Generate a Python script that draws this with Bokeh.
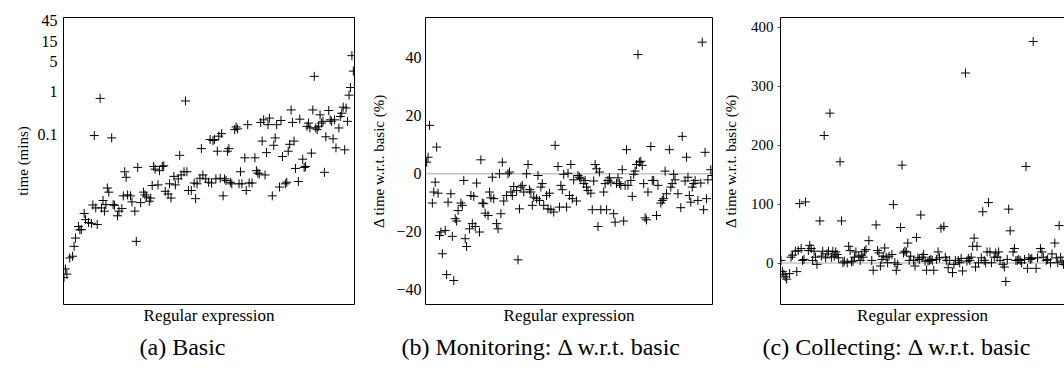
from bokeh.plotting import figure
from bokeh.layouts import row
from bokeh.models import Range1d, FixedTicker, Span, Title, LinearAxis, CustomJSTickFormatter
from bokeh.embed import file_html
from bokeh.resources import INLINE

SERIF = "Liberation Serif"

# ---------------- data ----------------
# (a) Basic: time in minutes per regular expression (index)
a_idx = [0, 1, 2, 4, 6, 7, 8, 10, 11, 12,
         14, 15, 17, 19, 20, 21, 22, 23, 25, 26,
         27, 28, 29, 30, 31, 33, 34, 35, 37, 38,
         40, 41, 42, 43, 44, 46, 47, 49, 50, 51,
         53, 55, 56, 57, 59, 60, 61, 62, 63, 65,
         66, 68, 69, 70, 72, 73, 74, 76, 77, 79,
         80, 81, 83, 84, 85, 86, 88, 90, 91, 92,
         94, 95, 96, 98, 100, 101, 102, 103, 104, 105,
         106, 107, 108, 109, 110, 111, 112, 113, 114, 115,
         116, 118, 119, 120, 121, 122, 123, 125, 126, 127,
         128, 130, 132, 133, 134, 135, 136, 137, 138, 139,
         140, 141, 142, 144, 145, 146, 147, 149, 150, 151,
         153, 154, 155, 156, 157, 158, 159, 160, 162, 163,
         165, 166, 167, 168, 169, 170, 171, 172, 173, 174,
         175, 176, 177, 178, 179, 180, 181, 183, 184, 185,
         186, 187, 188, 190, 191, 192, 193, 194, 195, 196,
         197, 198, 199, 200]
a_time = [4.4e-5, 7.0e-5, 5.3e-5, 1.27e-4, 1.39e-4, 2.37e-4, 3.7e-4, 6.9e-4, 5.8e-4, 5.8e-4,
          1.39e-3, 1.0e-3, 8.6e-4, 8.2e-4, 2.2e-3, 0.093, 1.88e-3, 7.7e-4, 0.69, 1.88e-3,
          2.8e-3, 1.58e-3, 2.24e-3, 5.5e-3, 4.4e-3, 0.082, 2.24e-3, 2.17e-3, 1.23e-3, 1.58e-3,
          1.82e-3, 3.6e-3, 0.0132, 9.8e-3, 3.8e-3, 3.6e-3, 2.6e-3, 1.58e-3, 3.1e-4, 0.0167,
          2.5e-3, 4.4e-3, 3.8e-3, 3.4e-3, 2.7e-3, 3.2e-3, 6.3e-3, 0.0176, 0.0152, 6.5e-3,
          0.014, 0.0176, 0.0182, 4.6e-3, 4.0e-3, 6.9e-3, 3.2e-3, 0.0103, 6.5e-3, 9.0e-3,
          0.032, 0.0111, 0.0132, 0.60, 0.0132, 4.8e-3, 4.8e-3, 7.2e-3, 3.1e-3, 6.9e-3,
          9.3e-3, 0.046, 0.0111, 9.0e-3, 7.5e-3, 0.075, 7.2e-3, 0.071, 0.075, 9.0e-3,
          0.040, 0.090, 9.3e-3, 0.103, 3.6e-3, 9.0e-3, 8.2e-3, 0.040, 0.046, 7.5e-3,
          6.9e-3, 0.128, 0.148, 0.133, 6.9e-3, 0.0132, 6.9e-3, 0.028, 4.8e-3, 0.167,
          7.2e-3, 7.2e-3, 0.028, 0.014, 0.0123, 0.0117, 0.189, 0.069, 0.217, 0.0111,
          0.037, 0.167, 0.238, 3.6e-3, 0.055, 0.082, 0.167, 5.8e-3, 0.21, 0.030,
          6.9e-3, 7.5e-3, 0.040, 0.058, 0.37, 0.189, 0.069, 0.0158, 7.8e-3, 0.225,
          0.026, 0.0167, 0.0176, 0.153, 0.182, 0.14, 0.036, 0.37, 2.26, 0.14,
          0.128, 0.153, 0.284, 0.182, 0.20, 0.0128, 0.087, 0.358, 0.217, 0.20,
          0.078, 0.217, 0.048, 0.14, 0.26, 0.31, 0.43, 0.043, 0.41, 0.20,
          0.82, 1.24, 6.9, 3.0]

# (b) Monitoring: delta time w.r.t. basic (%)
b_idx = [0, 1, 2, 4, 5, 6, 7, 8, 9, 10,
         11, 13, 14, 15, 17, 18, 19, 20, 21, 22,
         24, 25, 26, 27, 28, 30, 31, 32, 33, 34,
         35, 37, 38, 39, 40, 41, 43, 44, 45, 46,
         47, 49, 50, 51, 52, 53, 54, 56, 57, 58,
         59, 60, 61, 63, 64, 65, 66, 67, 68, 70,
         71, 72, 73, 74, 75, 77, 78, 79, 80, 81,
         82, 84, 85, 86, 87, 89, 90, 92, 93, 94,
         95, 96, 98, 99, 100, 101, 102, 103, 105, 106,
         107, 108, 110, 111, 112, 113, 115, 116, 117, 118,
         119, 120, 121, 122, 124, 125, 126, 127, 128, 129,
         131, 132, 133, 134, 135, 136, 137, 138, 139, 140,
         141, 143, 144, 145, 146, 147, 148, 149, 150, 151,
         152, 153, 154, 155, 157, 158, 159, 161, 162, 164,
         165, 166, 167, 168, 170, 171, 172, 173, 174, 176,
         178, 179, 181, 182, 183, 184, 185, 186, 187, 188,
         190, 192, 193, 194, 195, 196, 197, 199, 200]
b_delta = [4.0, 5.7, 16.7, -10.1, -6.3, -2.9, 9.2, -6.7, -21.3, -20.1,
           -27.6, -19.6, -34.8, -9.8, -6.9, -21.6, -36.8, -15.5, -16.3, -12.7,
           -10.1, -10.9, -2.3, -22.4, -25.1, -19.0, -7.5, -17.2, -7.8, -18.2,
           -3.2, -20.1, 4.8, -10.1, -10.3, -13.6, -14.4, -6.3, -8.3, -1.2,
           -8.6, -17.2, -19.0, 0.0, -13.8, 4.0, -9.4, -7.5, 0.0, 0.6,
           -6.3, -7.5, -4.4, -5.8, -29.7, -12.1, -4.6, -4.0, -6.3, 0.0,
           3.2, -5.5, -6.3, -10.9, -8.1, -8.6, -0.6, -9.2, -4.6, -3.4,
           -10.9, -7.5, -12.1, -6.7, -12.4, -13.2, 9.8, 2.5, -11.5, -4.0,
           -5.5, -0.2, -11.5, 0.2, -7.5, 3.2, -8.6, -2.1, -9.4, -0.6,
           -1.2, -1.7, -3.4, -2.3, -4.6, -5.8, -6.7, -12.4, -2.5, 3.2,
           1.7, -18.2, 0.6, -12.4, -6.3, -3.4, -12.4, -2.3, -1.4, -2.9,
           -13.8, -16.7, -3.4, -1.4, -3.4, -4.0, 1.4, -16.3, -4.0, 8.3,
           -4.0, -2.3, -7.8, -0.2, 0.9, 3.2, 41.1, 4.0, 4.3, 2.9,
           -3.4, -15.2, -15.9, -6.3, 9.4, -2.3, -2.3, -14.4, -4.0, -10.1,
           -9.2, -8.6, 0.9, -6.9, 8.3, -4.6, -3.4, -0.2, -2.1, -6.9,
           -11.7, 12.9, -2.5, 5.7, -1.2, -7.5, -9.8, -4.6, -3.4, -2.3,
           -9.2, -3.2, 45.4, -12.4, 7.4, -8.6, -2.1, 1.4, -0.6]

# (c) Collecting: delta time w.r.t. basic (%)
c_idx = [0, 1, 2, 3, 4, 6, 7, 8, 10, 11,
         12, 13, 14, 15, 16, 17, 19, 20, 21, 22,
         23, 24, 25, 27, 28, 29, 30, 31, 32, 33,
         34, 35, 36, 37, 38, 39, 40, 41, 42, 43,
         44, 46, 47, 48, 49, 50, 51, 52, 54, 55,
         56, 57, 58, 59, 61, 63, 64, 66, 67, 68,
         69, 70, 71, 72, 73, 74, 75, 77, 78, 79,
         80, 81, 83, 84, 85, 86, 87, 88, 89, 90,
         92, 93, 94, 95, 96, 97, 98, 99, 100, 101,
         102, 103, 104, 105, 106, 108, 109, 110, 111, 113,
         114, 115, 116, 117, 119, 120, 121, 123, 124, 125,
         126, 128, 129, 130, 131, 132, 133, 134, 135, 136,
         137, 139, 140, 141, 142, 143, 144, 145, 146, 148,
         149, 150, 151, 152, 154, 155, 156, 157, 158, 159,
         161, 162, 163, 164, 165, 166, 167, 169, 170, 171,
         172, 173, 174, 175, 177, 178, 180, 181, 182, 184,
         185, 187, 188, 190, 191, 192, 193, 194, 195, 196]
c_delta = [4.5, -14.5, -19.0, -23.4, -27.3, -17.9, 10.0, 13.4, 20.1, -14.5,
           21.2, 100.9, 24.6, 4.5, 6.2, 103.8, 21.2, 30.1, 24.6, 4.5,
           20.1, 10.0, -2.2, 71.5, 11.7, 20.1, 216.4, 8.9, 15.6, 20.1,
           254.4, 10.0, 20.1, 11.7, 18.9, 14.6, 8.9, 171.9, 71.5, 0.5,
           3.3, 0.5, 28.5, 21.2, 2.2, 3.3, 10.0, 18.9, 11.7, 4.5,
           13.4, 10.0, 20.1, 22.9, 38.0, 4.5, -12.2, 64.8, 21.2, 17.2,
           -5.0, 6.2, 11.7, 25.6, 10.0, 0.5, 11.7, 14.6, 99.2, 0.5,
           -12.2, -2.2, 60.3, 166.2, 17.2, 20.1, 18.9, 34.0, 4.5, 11.7,
           4.5, -5.0, 43.5, 8.9, 6.2, 81.5, 10.0, 14.6, 3.3, -12.2,
           3.3, 4.5, 6.2, 4.5, -12.2, 6.2, 18.9, 8.9, 59.1, 61.9,
           10.0, 4.5, -7.9, 4.5, -16.2, -2.2, 4.5, 4.5, 0.5, 7.9,
           -13.4, 322.5, 3.3, 7.9, 4.5, 10.0, 28.5, 42.3, -6.7, 28.5,
           0.5, 8.9, 87.0, 4.5, 0.5, 18.9, 102.6, 18.9, 0.5, 10.0,
           17.2, 10.0, 18.9, 4.5, -2.2, -6.7, -31.3, 6.2, 91.5, 54.7,
           18.9, 24.6, 4.5, 4.5, 6.2, 4.5, 0.5, 6.2, 164.0, -8.9,
           8.9, 6.2, 7.9, 376.0, -8.9, 8.9, 24.6, 18.9, 10.0, 4.5,
           6.2, 0.5, 15.6, 34.0, 8.9, 0.5, 63.6, 10.0, 3.3, -2.2]

a_ticks = [0.1, 1, 5, 15, 45]
b_ticks = [-40, -20, 0, 20, 40]
c_ticks = [0, 100, 200, 300, 400]

x_label = "Regular expression"
a_ylabel = "time (mins)"
bc_ylabel = "\u0394 time w.r.t. basic (%)"
captions = ["(a) Basic", "(b) Monitoring: \u0394 w.r.t. basic", "(c) Collecting: \u0394 w.r.t. basic"]
caption_offsets = [76, -24, -18]

H = 368


def make(width, xr, yr, mb_left, mb_right, mb_top, ylabel, ticks, fmt_code,
         tick_size, log=False):
    p = figure(width=width, height=H, x_range=xr, y_range=yr,
               y_axis_type="log" if log else "linear",
               output_backend="svg", toolbar_location=None,
               min_border_left=mb_left, min_border_right=mb_right,
               min_border_top=mb_top, min_border_bottom=64)
    p.grid.visible = False
    p.background_fill_color = "white"
    p.border_fill_color = "white"
    p.outline_line_color = "black"
    p.outline_line_width = 1
    p.outline_line_alpha = 1.0
    # x axis: no ticks, only a label
    p.xaxis.ticker = FixedTicker(ticks=[])
    p.xaxis.axis_line_color = None
    p.xaxis.major_tick_line_color = None
    p.xaxis.minor_tick_line_color = None
    p.xaxis.major_label_standoff = 0
    p.xaxis.major_tick_out = 0
    p.xaxis.axis_label = x_label
    p.xaxis.axis_label_standoff = 1
    p.xaxis.axis_label_text_font = SERIF
    p.xaxis.axis_label_text_font_style = "normal"
    p.xaxis.axis_label_text_font_size = "17px"
    p.xaxis.axis_label_text_color = "black"
    # y axis
    p.yaxis.ticker = FixedTicker(ticks=ticks, minor_ticks=[])
    p.yaxis.formatter = CustomJSTickFormatter(code=fmt_code)
    p.yaxis.axis_line_color = None
    p.yaxis.major_tick_line_color = None
    p.yaxis.minor_tick_line_color = None
    p.yaxis.major_label_text_font = SERIF
    p.yaxis.major_label_text_font_size = tick_size
    p.yaxis.major_label_text_color = "black"
    p.yaxis.axis_label = ylabel
    p.yaxis.axis_label_text_font = SERIF
    p.yaxis.axis_label_text_font_style = "normal"
    p.yaxis.axis_label_text_font_size = "15px"
    p.yaxis.axis_label_text_color = "black"
    return p


fmt_plain = "return String(tick);"
fmt_minus = "return tick < 0 ? '\\u2212' + String(Math.abs(tick)) : String(tick);"

# (a)
pa = make(362, Range1d(-0.3, 200.8), Range1d(1.03e-5, 54), 63, 8, 13,
          a_ylabel, a_ticks, fmt_plain, "16px", log=True)
pa.yaxis.major_tick_out = 0
pa.yaxis.major_label_standoff = 6
pa.yaxis.axis_label_standoff = 4
pa.scatter(a_idx, a_time, marker="cross", size=9, line_color="black", line_width=1)

# (b)
pb = make(357, Range1d(-0.8, 200.2), Range1d(-45.1, 53.9), 63, 7, 17,
          bc_ylabel, b_ticks, fmt_minus, "16px")
pb.yaxis.major_tick_out = 0
pb.yaxis.major_label_standoff = 4
pb.yaxis.axis_label_standoff = 6
pb.add_layout(Span(location=0, dimension="width", line_color="#c4c4c4",
                   line_width=1.5, level="underlay"))
pb.scatter(b_idx, b_delta, marker="cross", size=9, line_color="black", line_width=1)

# (c)
pc = make(345, Range1d(-0.3, 196.7), Range1d(-70.3, 416.7), 60, 0, 13,
          bc_ylabel, c_ticks, fmt_plain, "15px")
pc.outline_line_color = None
pc.yaxis.axis_line_color = "black"
pc.xaxis.axis_line_color = "black"
pc.yaxis.major_tick_line_color = "#555555"
pc.yaxis.major_tick_out = 3
pc.yaxis.major_tick_in = 0
pc.yaxis.major_label_standoff = 4
pc.yaxis.axis_label_standoff = 9
top_axis = LinearAxis(ticker=FixedTicker(ticks=[]), axis_line_color="black",
                      major_tick_line_color=None, minor_tick_line_color=None,
                      major_label_standoff=0, major_tick_out=0)
pc.add_layout(top_axis, "above")
pc.add_layout(Span(location=0, dimension="width", line_color="#c4c4c4",
                   line_width=1.5, level="underlay"))
pc.scatter(c_idx, c_delta, marker="cross", size=9, line_color="black", line_width=1)

# captions below each panel
for p, cap, off in zip([pa, pb, pc], captions, caption_offsets):
    p.add_layout(Title(text=cap, align="left", offset=off, standoff=8,
                       text_font=SERIF, text_font_size="24px",
                       text_font_style="normal", text_color="black"), "below")

layout = row(pa, pb, pc, spacing=0)
open("out.html", "w").write(file_html(layout, INLINE))
